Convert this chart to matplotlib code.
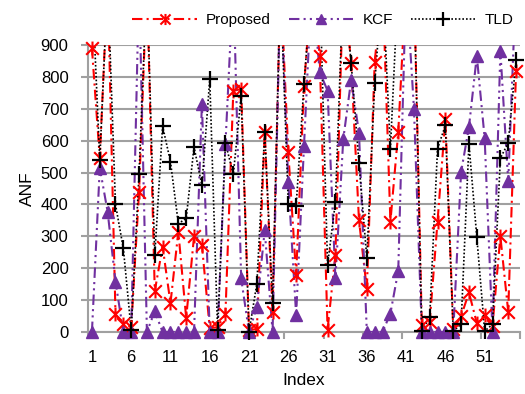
import numpy as np
import matplotlib.pyplot as plt
from matplotlib.path import Path
from matplotlib.lines import Line2D

plt.rcParams['font.family'] = ['Liberation Sans', 'DejaVu Sans']

# values; H marks points above the 900 limit (lines run off the top)
H = 1100
index = np.arange(1, 56)
proposed = [890, 545, H, 55, 25, 15, 440, H, 128, 268,
            90, 315, 44, 300, 273, 12, 15, 57, 756, 762,
            5, 10, 627, 62, H, 564, 178, 770, H, 866,
            7, 242, H, 845, 351, 134, 846, H, 346, 627,
            H, H, 22, 30, 346, 668, 10, 49, 124, 28,
            54, 20, 300, 64, 820]
kcf = [0, 515, 377, 158, 0, 0, H, 0, 65, 0,
       0, 0, 0, 0, 715, 0, 0, 590, H, 168,
       0, 79, 319, 0, H, 470, 53, 584, H, 815,
       757, 168, 605, 790, 625, 0, 0, 0, 58, 192,
       H, 700, 0, 0, 0, 0, 0, 502, 642, 866,
       608, 0, 882, 472, H]
tld = [H, 538, H, 400, 262, 5, 497, H, 240, 645,
       534, 340, 356, 580, 460, 793, 5, 593, 494, 740,
       0, 152, 627, 90, H, 402, 395, 777, H, H,
       210, 408, H, 845, 530, 231, 780, H, 574, H,
       H, H, 2, 46, 575, 648, 2, 25, 590, 298,
       3, 24, 545, 593, 853]
labels = ['Proposed', 'KCF', 'TLD']
xtick_labels = [1, 6, 11, 16, 21, 26, 31, 36, 41, 46, 51]

star = Path([(-1, -1), (1, 1), (-1, 1), (1, -1), (0, -1.1), (0, 1.1)],
            [Path.MOVETO, Path.LINETO] * 3)
purple = '#7030A0'
styles = [
    dict(color='red', ls=(0, (5, 2, 1, 2)), lw=1.5, marker=star, ms=10, mew=1.5, mfc='none'),
    dict(color=purple, ls=(0, (5, 2, 1, 2, 1, 2)), lw=1.5, marker='^', ms=9, mew=1, mfc=purple),
    dict(color='black', ls=(0, (1, 1.2)), lw=1.2, marker='+', ms=12, mew=1.6, mfc='none'),
]

fig = plt.figure(figsize=(5.25, 3.94), dpi=100)
ax = fig.add_axes([88/525, 1-332/394, (520-88)/525, (332-45)/394])

for vals, st in zip([proposed, kcf, tld], styles):
    ax.plot(index, vals, color=st['color'], ls=st['ls'], lw=st['lw'], zorder=3)
for vals, st in zip([proposed, kcf, tld], styles):
    v = np.array(vals, float)
    v[v > 900] = np.nan
    ax.plot(index, v, ls='none', marker=st['marker'], ms=st['ms'], mec=st['color'],
            mfc=st['mfc'], mew=st['mew'], clip_on=False, zorder=4)

ax.set_xlim(0.5, 55.5)
ax.set_ylim(0, 900)
ax.set_yticks(range(0, 1000, 100))
ax.set_xticks(xtick_labels)
ax.set_xticks(np.arange(0.5, 56, 5), minor=True)
ax.tick_params(axis='x', which='major', length=0, pad=13, labelsize=12)
ax.tick_params(axis='x', which='minor', length=5, width=1.5, color='#A0A0A0')
ax.tick_params(axis='y', length=5, width=1.5, color='#A0A0A0', pad=9, labelsize=12)
ax.yaxis.grid(True, color='#A0A0A0', lw=1.5)
ax.set_axisbelow(True)
for s in ['top', 'right']:
    ax.spines[s].set_visible(False)
for s in ['left', 'bottom']:
    ax.spines[s].set_color('#A0A0A0')
    ax.spines[s].set_linewidth(1.5)
ax.set_ylabel('ANF', fontsize=12.5, labelpad=4)
ax.set_xlabel('Index', fontsize=12.5, labelpad=6)

handles = [Line2D([], [], color=st['color'], ls=st['ls'], lw=st['lw'], marker=st['marker'],
                  ms=st['ms'] * 0.8, mec=st['color'], mfc=st['mfc'], mew=st['mew'])
           for st in styles]
fig.legend(handles, labels, loc='center', bbox_to_anchor=(0.615, 1-20/394), ncol=3,
           frameon=False, fontsize=11, handlelength=4.2, columnspacing=1.2,
           handletextpad=0.6, numpoints=1)

fig.savefig('out.png', dpi=100)
